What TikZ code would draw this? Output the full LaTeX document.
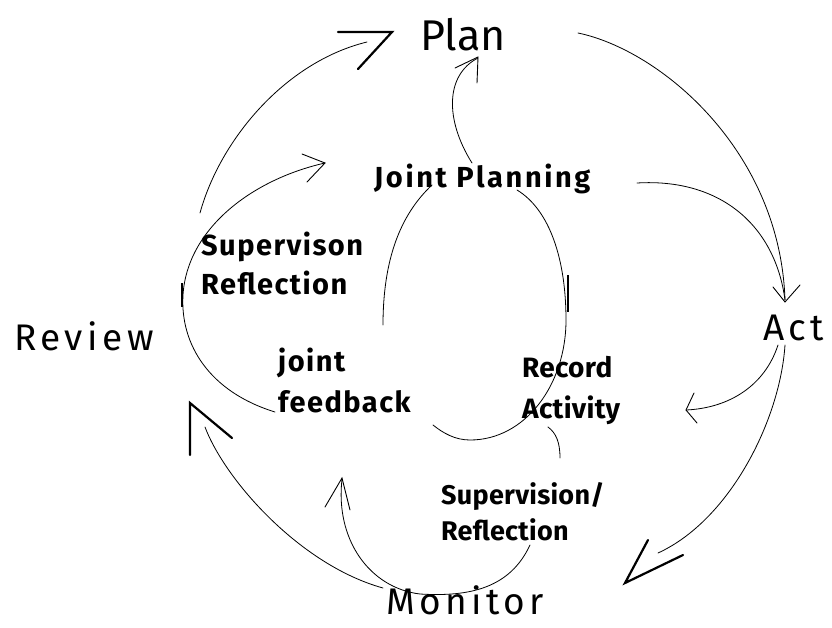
\documentclass[tikz,border=0pt]{standalone}
\usepackage{fontspec}
\setmainfont{Fira Sans}
\newfontfamily\outerfont[LetterSpace=12]{Fira Sans}
\newfontfamily\innerfont[LetterSpace=5]{Fira Sans}
\newfontfamily\wideinnerfont[LetterSpace=9]{Fira Sans}
\newfontfamily\tightinnerfont[LetterSpace=1]{Fira Sans}
\begin{document}
\begin{tikzpicture}[x=1pt,y=-1pt,
  outer/.style={font=\outerfont\fontsize{37}{44}\selectfont, inner sep=0, anchor=base west},
  inner/.style={font=\innerfont\bfseries\fontsize{29}{39}\selectfont, inner sep=0, align=left, anchor=north west},
  conn/.style={line width=0.8pt, line cap=round},
  barb/.style={line width=2.2pt, line cap=round, line join=miter},
  tipline/.style={line width=0.9pt, line cap=round, line join=miter}]
\fill[white] (0,0) rectangle (832,627);
\useasboundingbox (0,0) rectangle (832,627);

% main stage labels
\node[outer, font=\fontsize{43}{50}\selectfont] (plan) at (420,50) {Plan};
\node[outer] (review) at (14,350) {Review};
\node[outer] (act) at (763,340) {Act};
\node[outer] (monitor) at (386,614) {Monitor};

% inner labels
\node[inner, font=\wideinnerfont\bfseries\fontsize{29}{39}\selectfont, anchor=base west] (jp) at (374,187) {Joint Planning};
\node[inner] (sr) at (201,232) {Supervison\\Reflection};
\node[inner, font=\innerfont\bfseries\fontsize{29}{41}\selectfont] (jf) at (278,348) {joint\\feedback};
\node[inner, font=\tightinnerfont\bfseries\fontsize{28}{41}\selectfont] (ra) at (522,356) {Record\\Activity};
\node[inner, font=\tightinnerfont\bfseries\fontsize{27}{36}\selectfont] (sv) at (441,482) {Supervision/\\Reflection};

% connector end points
\coordinate (rv1) at (200,213);
\coordinate (pl1) at (367,42);
\coordinate (pl2) at (578,33);
\coordinate (ac1) at (785,300);
\coordinate (jp2) at (637,183);
\coordinate (ac2) at (778,345);
\coordinate (ra1) at (686,410);
\coordinate (ac3) at (785,345);
\coordinate (mo1) at (658,553);
\coordinate (mo2) at (383,588);
\coordinate (rv2) at (205,427);
\coordinate (sv1) at (530,545);
\coordinate (mo3) at (420,594);
\coordinate (jf1) at (342,479);
\coordinate (jp1) at (472,163);
\coordinate (pl3) at (478,58);
\coordinate (jf2) at (275,412);
\coordinate (sr1) at (183,295);
\coordinate (jp3) at (325,163);
\coordinate (jp4) at (432,185);
\coordinate (in1) at (383,325);
\coordinate (jp5) at (517,190);
\coordinate (in3) at (566,320);
\coordinate (in4) at (470,440);
\coordinate (in2) at (433,425);
\coordinate (ra2) at (548,427);
\coordinate (ra3) at (560,458);

% outer cycle
\draw[conn] (rv1) .. controls (220,140) and (285,62) .. (pl1);
\draw[barb] (338,32) -- (392,32) -- (358,69);

\draw[conn] (pl2) .. controls (660,50) and (780,150) .. (ac1);
\draw[conn] (jp2) .. controls (720,178) and (775,225) .. (ac1);
\draw[tipline] (773,287) -- (785,302) -- (800,285);

\draw[conn] (ac2) .. controls (765,385) and (730,408) .. (ra1);
\draw[tipline] (694,393) -- (686,410) -- (697,423);

\draw[conn] (ac3) .. controls (780,420) and (730,520) .. (mo1);
\draw[barb] (683,555) -- (625,583) -- (648,540);

\draw[conn] (mo2) .. controls (300,565) and (225,480) .. (rv2);
\draw[barb] (190,455) -- (190,403) -- (232,438);

% inner cycle
\draw[conn] (sv1) .. controls (510,588) and (470,597) .. (mo3)
                  .. controls (370,588) and (335,540) .. (jf1);
\draw[tipline] (325,507) -- (342,478) -- (350,510);

\draw[conn] (jp1) .. controls (445,120) and (445,75) .. (pl3);
\draw[tipline] (455,68) -- (478,57) -- (477,83);

\draw[conn] (jf2) .. controls (210,392) and (180,345) .. (sr1)
                  .. controls (187,230) and (250,180) .. (jp3);
\draw[tipline] (302,154) -- (325,163) -- (307,182);
\draw[line width=2pt] (182,283) -- (182,307);

\draw[conn] (jp4) .. controls (400,215) and (383,260) .. (in1);
\draw[conn] (jp5) .. controls (550,210) and (566,260) .. (in3)
                  .. controls (566,385) and (525,440) .. (in4)
                  .. controls (455,440) and (443,433) .. (in2);
\draw[line width=1.8pt] (568,275) -- (568,312);
\draw[conn] (ra2) .. controls (556,433) and (560,442) .. (ra3);
\end{tikzpicture}
\end{document}
